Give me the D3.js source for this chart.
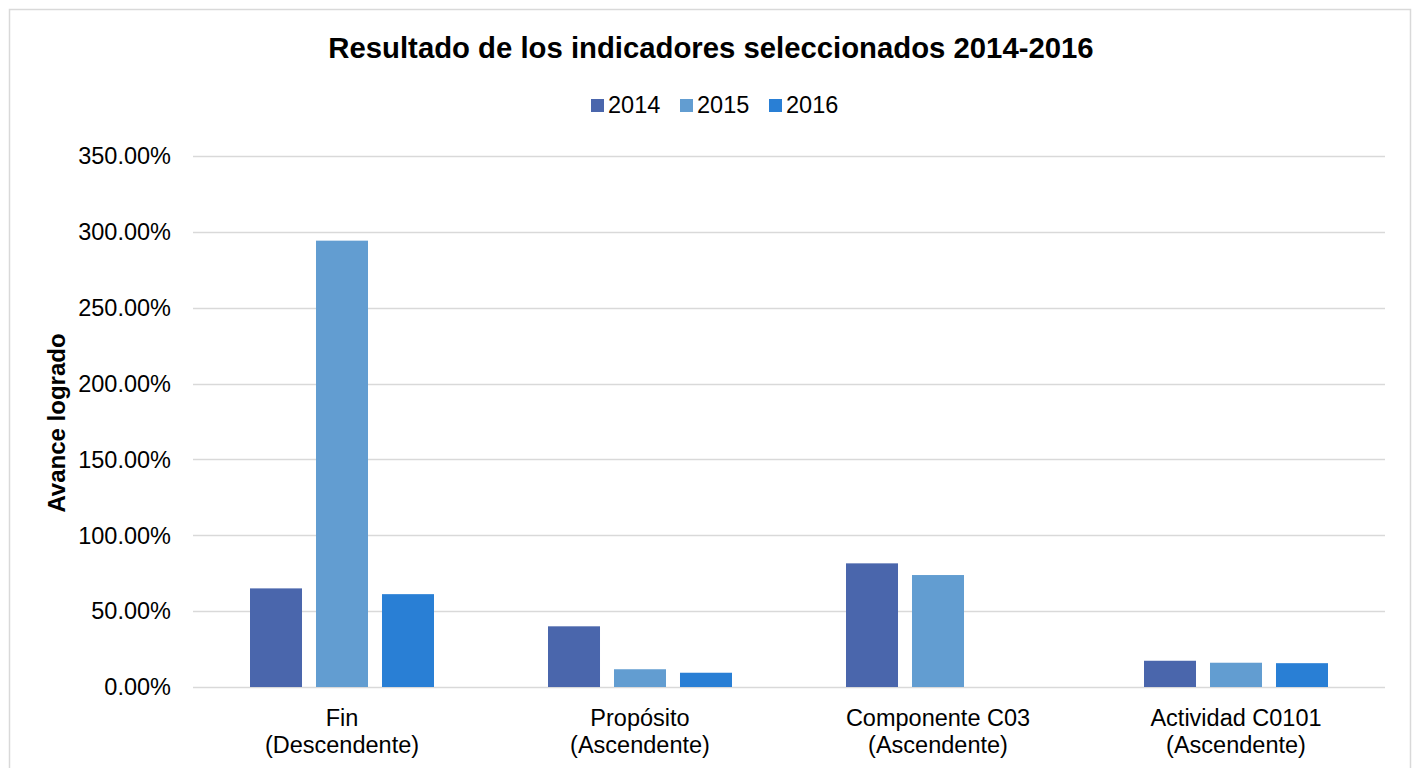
<!DOCTYPE html>
<html>
<head>
<meta charset="utf-8">
<script src="https://cdn.jsdelivr.net/npm/d3@7"></script>
<style>
  body { margin: 0; background: #fff; }
  svg { display: block; font-family: Arial, "Liberation Sans", sans-serif; }
</style>
</head>
<body>
<svg id="chart" width="1418" height="768"></svg>
<script>
const categories = [['Fin', '(Descendente)'], ['Propósito', '(Ascendente)'], ['Componente C03', '(Ascendente)'], ['Actividad C0101', '(Ascendente)']];
const series = ['2014', '2015', '2016'];
const values2014 = [65.0, 40.0, 81.5, 17.3];
const values2015 = [294.2, 11.7, 73.8, 16.0];
const values2016 = [61.2, 9.4, 0, 15.7];
const yTicks = [0, 50, 100, 150, 200, 250, 300, 350];
const colors = ['#4a66ac', '#629dd1', '#297fd5'];

const svg = d3.select('#chart');
const margin = { left: 193, right: 33, top: 156, bottom: 81 };
const W = 1418, H = 768;

// chart border
svg.append('rect').attr('x', 9.5).attr('y', 9.5).attr('width', 1401).attr('height', 780)
  .attr('fill', '#fff').attr('stroke', '#d9d9d9').attr('stroke-width', 1.5);

const x = d3.scaleBand().domain(d3.range(categories.length)).range([margin.left, W - margin.right]);
const xs = d3.scaleBand().domain(series).range([57, x.bandwidth() - 57]).paddingInner(0.212);
const y = d3.scaleLinear().domain([0, 350]).range([H - margin.bottom, margin.top]);

// gridlines
svg.append('g').selectAll('line').data(yTicks).join('line')
  .attr('x1', margin.left).attr('x2', W - margin.right)
  .attr('y1', d => Math.round(y(d)) + 0.5).attr('y2', d => Math.round(y(d)) + 0.5)
  .attr('stroke', '#d9d9d9').attr('stroke-width', 1.5);

// y tick labels
svg.append('g').selectAll('text').data(yTicks).join('text')
  .attr('x', 171).attr('y', d => y(d)).attr('dy', '0.35em')
  .attr('text-anchor', 'end').attr('font-size', 23.5).attr('fill', '#000')
  .text(d => d.toFixed(2) + '%');

// bars
const data = [values2014, values2015, values2016];
series.forEach((s, si) => {
  svg.append('g').selectAll('rect').data(data[si]).join('rect')
    .attr('x', (d, i) => x(i) + xs(s))
    .attr('width', xs.bandwidth())
    .attr('y', d => y(d))
    .attr('height', d => y(0) - y(d))
    .attr('fill', colors[si]);
});

// category labels
const cat = svg.append('g').selectAll('text').data(categories).join('text')
  .attr('text-anchor', 'middle').attr('font-size', 23.5).attr('fill', '#000');
cat.append('tspan').attr('x', (d, i) => x(i) + x.bandwidth() / 2).attr('y', 726).text(d => d[0]);
cat.append('tspan').attr('x', (d, i) => x(i) + x.bandwidth() / 2).attr('y', 753).text(d => d[1]);

// title
svg.append('text').attr('x', 711).attr('y', 58).attr('text-anchor', 'middle')
  .attr('font-size', 29.3).attr('font-weight', 'bold').text('Resultado de los indicadores seleccionados 2014-2016');

// y axis title
svg.append('text').attr('transform', 'translate(65,423) rotate(-90)').attr('text-anchor', 'middle')
  .attr('font-size', 24).attr('font-weight', 'bold').text('Avance logrado');

// legend
const legendX = [591, 680, 769];
const lg = svg.append('g').selectAll('g').data(series).join('g')
  .attr('transform', (d, i) => `translate(${legendX[i]},0)`);
lg.append('rect').attr('x', 0).attr('y', 99).attr('width', 13).attr('height', 13).attr('fill', (d, i) => colors[i]);
lg.append('text').attr('x', 17).attr('y', 113).attr('font-size', 23.5).text(d => d);
</script>
</body>
</html>
